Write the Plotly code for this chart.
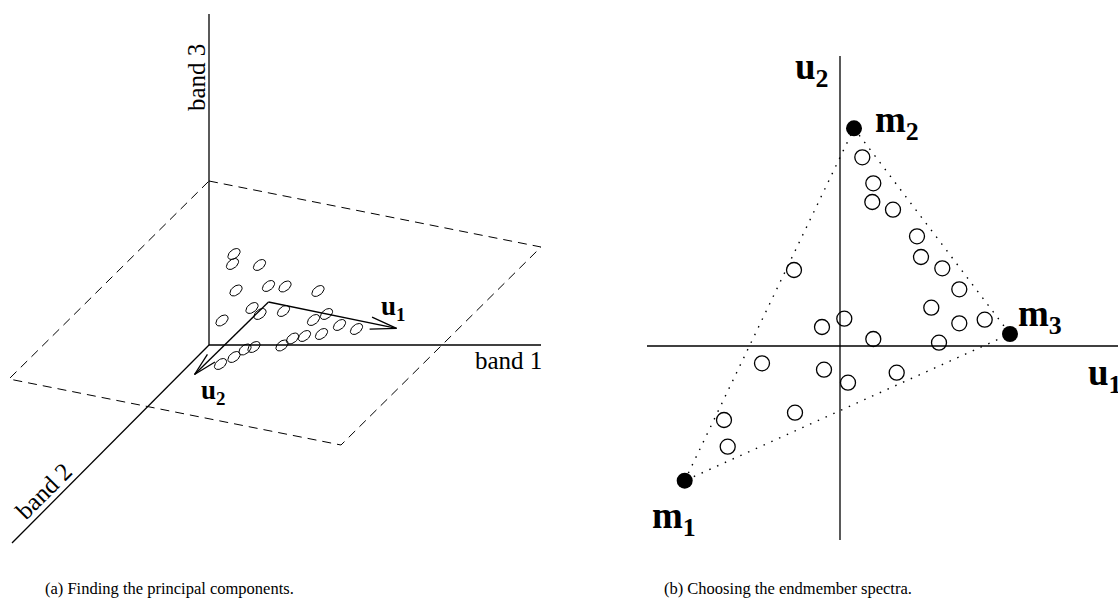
import numpy as np
import plotly.graph_objects as go

# ---------------- Panel (a): projected 3-D sketch (units ~ px, origin at band axes origin) --------
band_axis_ends = {"band 1": (332, 0), "band 3": (0, 331), "band 2": (-197, -198)}
plane_x = [0, 332, 132, -200, 0]
plane_y = [164, 98, -100, -34, 164]
pts_a_x = [25, 23.5, 50.5, 27, 59.5, 76, 109, 13, 43, 51, 74.5, 117.5, 104.5, 130.5,
           147.5, 112.5, 95.5, 83.5, 73, 45, 36, 25, 11.5]
pts_a_y = [91, 81, 80, 54.5, 59, 58.5, 54, 24.5, 37, 31, 34, 31, 25, 20,
           16, 11, 9, 6.5, -0.5, -2, -4.5, -12, -19]
arrow_origin = (59.5, 43)
u1_tip = (187.6, 16.6)
u2_tip = (-14.5, -29.5)

# ---------------- Panel (b): PCA space -----------------------------------------------------------
u1_axis = (-193, 278)
u2_axis = (-194, 290)
m_names = ["m1", "m2", "m3"]
m_x = [-155.3, 14, 170]
m_y = [-134.7, 217.7, 12]
pts_b_x = [22.3, 33.3, 32.3, 53, 77, 81, 102.3, 119.3, 91.3, 119.3, 144.7, 99, 33.3,
           4.3, -18, -46, -78, -16, 8, 56.7, -45, -116, -112.3]
pts_b_y = [188.7, 162.7, 144, 136.3, 109.7, 89, 77.7, 56.7, 38.3, 22.7, 26.3, 3.3, 7,
           27.3, 19, 76, -17.3, -23.7, -36.7, -26.7, -66.7, -74, -100.7]

captions = ["(a) Finding the principal components.", "(b) Choosing the endmember spectra."]

W, H = 1118, 612
fig = go.Figure()
BL = dict(color="black", width=1.3)

# ---- panel a ----
for name, (ex, ey) in band_axis_ends.items():
    fig.add_trace(go.Scatter(x=[0, ex], y=[0, ey], mode="lines", line=BL,
                             xaxis="x", yaxis="y", hoverinfo="skip"))
fig.add_trace(go.Scatter(x=plane_x, y=plane_y, mode="lines",
                         line=dict(color="black", width=1, dash="9px,6px"),
                         xaxis="x", yaxis="y", hoverinfo="skip"))

# tilted ellipses
t = np.linspace(0, 2 * np.pi, 40)
ang = np.deg2rad(38)
a_s, b_s = 7.0, 4.3
ex_all, ey_all = [], []
for cx, cy in zip(pts_a_x, pts_a_y):
    xx = cx + a_s * np.cos(t) * np.cos(ang) - b_s * np.sin(t) * np.sin(ang)
    yy = cy + a_s * np.cos(t) * np.sin(ang) + b_s * np.sin(t) * np.cos(ang)
    ex_all += list(xx) + [None]
    ey_all += list(yy) + [None]
fig.add_trace(go.Scatter(x=ex_all, y=ey_all, mode="lines",
                         line=dict(color="black", width=1),
                         xaxis="x", yaxis="y", hoverinfo="skip"))

# arrows with open heads
def arrow(o, tip, L, half_deg):
    dx, dy = tip[0] - o[0], tip[1] - o[1]
    th = np.arctan2(dy, dx) + np.pi
    h = np.deg2rad(half_deg)
    b1 = (tip[0] + L * np.cos(th + h), tip[1] + L * np.sin(th + h))
    b2 = (tip[0] + L * np.cos(th - h), tip[1] + L * np.sin(th - h))
    xs = [o[0], tip[0], None, b1[0], tip[0], b2[0]]
    ys = [o[1], tip[1], None, b1[1], tip[1], b2[1]]
    return xs, ys

for tip, L in [(u1_tip, 27), (u2_tip, 24)]:
    xs, ys = arrow(arrow_origin, tip, L, 13)
    fig.add_trace(go.Scatter(x=xs, y=ys, mode="lines", line=BL,
                             xaxis="x", yaxis="y", hoverinfo="skip"))

# ---- panel b ----
fig.add_trace(go.Scatter(x=list(u1_axis), y=[0, 0], mode="lines", line=BL,
                         xaxis="x2", yaxis="y2", hoverinfo="skip"))
fig.add_trace(go.Scatter(x=[0, 0], y=list(u2_axis), mode="lines", line=BL,
                         xaxis="x2", yaxis="y2", hoverinfo="skip"))
fig.add_trace(go.Scatter(x=m_x + [m_x[0]], y=m_y + [m_y[0]], mode="lines",
                         line=dict(color="black", width=1.4, dash="1.5px,7px"),
                         xaxis="x2", yaxis="y2", hoverinfo="skip"))
fig.add_trace(go.Scatter(x=pts_b_x, y=pts_b_y, mode="markers",
                         marker=dict(symbol="circle-open", size=15, color="black",
                                     line=dict(width=1.3, color="black")),
                         xaxis="x2", yaxis="y2", hoverinfo="skip"))
fig.add_trace(go.Scatter(x=m_x, y=m_y, mode="markers",
                         marker=dict(symbol="circle", size=16, color="black"),
                         xaxis="x2", yaxis="y2", hoverinfo="skip"))

# ---- text ----
SERIF = "Liberation Serif"
ann = []
def A(text, x, y, xref, yref, size, angle=0, xanchor="center", yanchor="middle"):
    ann.append(dict(text=text, x=x, y=y, xref=xref, yref=yref, showarrow=False,
                    textangle=angle, xanchor=xanchor, yanchor=yanchor,
                    font=dict(family=SERIF, size=size, color="black")))

A("band 3", -13, 267, "x", "y", 25, angle=-90)
A("band 1", 299, -15, "x", "y", 25)
A("band 2", -166, -146, "x", "y", 25, angle=-45)
A("<b>u<sub>1</sub></b>", 184, 37, "x", "y", 27)
A("<b>u<sub>2</sub></b>", 4, -47, "x", "y", 27)

A("<b>m<sub>1</sub></b>", -166, -172, "x2", "y2", 37)
A("<b>m<sub>2</sub></b>", 57, 224, "x2", "y2", 37)
A("<b>m<sub>3</sub></b>", 200, 30, "x2", "y2", 37)
A("<b>u<sub>2</sub></b>", -28, 277, "x2", "y2", 37)
A("<b>u<sub>1</sub></b>", 246, -29, "x2", "y2", 37, xanchor="left")

for cap, cx in zip(captions, [169, 788]):
    ann.append(dict(text=cap, x=cx / W, y=1 - 588 / H, xref="paper", yref="paper",
                    xanchor="center", yanchor="middle",
                    showarrow=False, font=dict(family=SERIF, size=16.5, color="black")))

ax_common = dict(visible=False, showgrid=False, zeroline=False, fixedrange=True)
fig.update_layout(
    width=W, height=H, margin=dict(l=0, r=0, t=0, b=0),
    paper_bgcolor="white", plot_bgcolor="white", showlegend=False,
    xaxis=dict(domain=[0, 559 / W], range=[-209, 350], **ax_common),
    yaxis=dict(domain=[0, 1], range=[-267, 345], **ax_common),
    xaxis2=dict(domain=[559 / W, 1], range=[-281, 278], **ax_common),
    yaxis2=dict(domain=[0, 1], range=[-266, 346], anchor="x2", **ax_common),
    annotations=ann,
)
for tr in fig.data:
    tr.cliponaxis = False
fig.write_html("out.html")
